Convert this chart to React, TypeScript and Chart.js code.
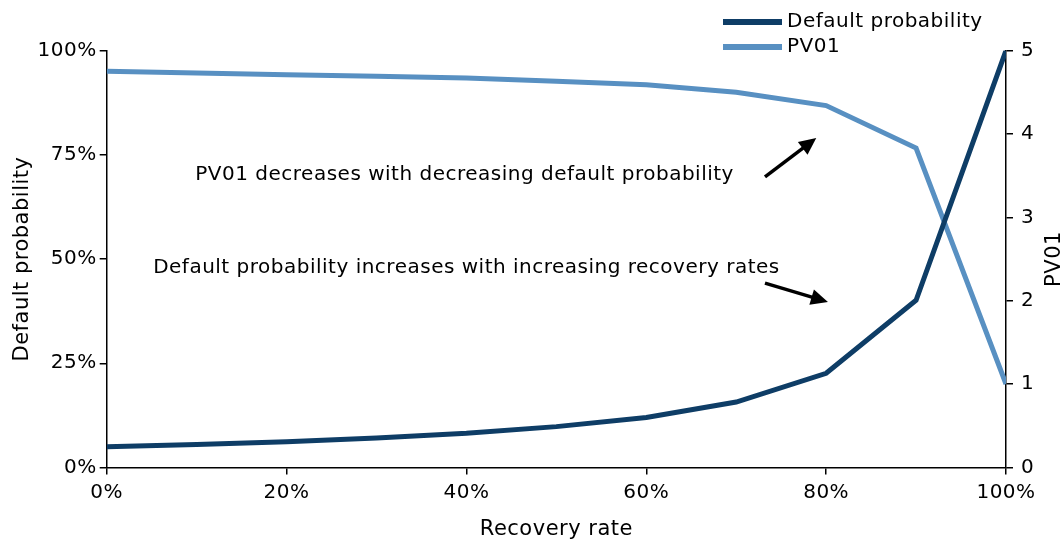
import React, { useEffect, useRef } from "react";
import { Chart, registerables } from "chart.js";

Chart.register(...registerables);

const recoveryRates = [0, 10, 20, 30, 40, 50, 60, 70, 80, 90, 100];
const defaultProbability = [5.0, 5.5, 6.2, 7.1, 8.2, 9.8, 12.0, 15.7, 22.6, 40.1, 100];
const pv01 = [4.75, 4.73, 4.71, 4.69, 4.67, 4.63, 4.59, 4.5, 4.34, 3.83, 1.0];

const seriesLabels = ["Default probability", "PV01"];
const seriesColors = ["#0e3d66", "#5890c2"];

const xTitle = "Recovery rate";
const yLeftTitle = "Default probability";
const yRightTitle = "PV01";

// annotations in data coordinates (x: recovery %, y: left axis %)
const noteTexts = [
  "PV01 decreases with decreasing default probability",
  "Default probability increases with increasing recovery rates",
];
const noteX = [39.8, 40.0];
const noteY = [70.1, 47.8];
const arrowFromX = [73.2, 73.2];
const arrowFromY = [69.7, 44.2];
const arrowToX = [78.9, 80.2];
const arrowToY = [79.0, 39.7];

const FONT = '"DejaVu Sans", sans-serif';
const FSIZE = 20;
const SPACING = "0.5px";

export default function App() {
  const ref = useRef<HTMLCanvasElement | null>(null);

  useEffect(() => {
    if (!ref.current) return;

    const spacing = {
      id: "spacing",
      beforeUpdate(chart: any) {
        chart.ctx.letterSpacing = SPACING;
      },
      beforeLayout(chart: any) {
        chart.ctx.letterSpacing = SPACING;
      },
      beforeDraw(chart: any) {
        chart.ctx.letterSpacing = SPACING;
      },
    };

    const overlay = {
      id: "overlay",
      afterDraw(chart: any) {
        const ctx = chart.ctx;
        const xs = chart.scales.x;
        const yl = chart.scales.yLeft;
        const ca = chart.chartArea;
        ctx.save();
        ctx.letterSpacing = SPACING;
        ctx.font = `${FSIZE}px ${FONT}`;
        ctx.fillStyle = "#000";
        ctx.textAlign = "center";
        ctx.textBaseline = "middle";
        for (let i = 0; i < noteTexts.length; i++) {
          ctx.fillText(noteTexts[i], xs.getPixelForValue(noteX[i]), yl.getPixelForValue(noteY[i]));
        }
        // arrows
        ctx.strokeStyle = "#000";
        ctx.fillStyle = "#000";
        ctx.lineWidth = 3.5;
        for (let i = 0; i < arrowFromX.length; i++) {
          const x1 = xs.getPixelForValue(arrowFromX[i]);
          const y1 = yl.getPixelForValue(arrowFromY[i]);
          const x2 = xs.getPixelForValue(arrowToX[i]);
          const y2 = yl.getPixelForValue(arrowToY[i]);
          const ang = Math.atan2(y2 - y1, x2 - x1);
          const hl = 17, hw = 8;
          const bx = x2 - hl * Math.cos(ang);
          const by = y2 - hl * Math.sin(ang);
          ctx.beginPath();
          ctx.moveTo(x1, y1);
          ctx.lineTo(bx + 2 * Math.cos(ang), by + 2 * Math.sin(ang));
          ctx.stroke();
          ctx.beginPath();
          ctx.moveTo(x2, y2);
          ctx.lineTo(bx + hw * Math.sin(ang), by - hw * Math.cos(ang));
          ctx.lineTo(bx - hw * Math.sin(ang), by + hw * Math.cos(ang));
          ctx.closePath();
          ctx.fill();
        }
        // right axis title (reads bottom to top)
        ctx.save();
        ctx.font = `${FSIZE + 1}px ${FONT}`;
        ctx.translate(1055, (ca.top + ca.bottom) / 2);
        ctx.rotate(-Math.PI / 2);
        ctx.fillText(yRightTitle, 0, 0);
        ctx.restore();
        // legend
        ctx.textAlign = "left";
        const rows = [22, 47];
        for (let i = 0; i < seriesLabels.length; i++) {
          ctx.fillStyle = seriesColors[i];
          ctx.fillRect(723, rows[i] - 3, 59, 6);
          ctx.fillStyle = "#000";
          ctx.fillText(seriesLabels[i], 787, rows[i]);
        }
        ctx.restore();
      },
    };

    const tickFont = { family: FONT, size: FSIZE };
    const titleFont = { family: FONT, size: FSIZE + 1 };
    const chart = new Chart(ref.current, {
      type: "line",
      data: {
        datasets: [
          {
            label: seriesLabels[0],
            data: recoveryRates.map((r, i) => ({ x: r, y: defaultProbability[i] })),
            borderColor: seriesColors[0],
            backgroundColor: seriesColors[0],
            borderWidth: 5,
            pointRadius: 0,
            tension: 0,
            yAxisID: "yLeft",
          },
          {
            label: seriesLabels[1],
            data: recoveryRates.map((r, i) => ({ x: r, y: pv01[i] })),
            borderColor: seriesColors[1],
            backgroundColor: seriesColors[1],
            borderWidth: 5,
            pointRadius: 0,
            tension: 0,
            yAxisID: "yRight",
          },
        ],
      },
      options: {
        animation: false,
        responsive: true,
        maintainAspectRatio: false,
        devicePixelRatio: 1,
        layout: { padding: { top: 50.5, left: 0, right: 0, bottom: 0 } },
        plugins: { legend: { display: false }, tooltip: { enabled: false } },
        scales: {
          x: {
            type: "linear",
            min: 0,
            max: 100,
            afterFit(s: any) {
              s.height = 74.5;
            },
            ticks: {
              stepSize: 20,
              color: "#000",
              font: tickFont,
              padding: 6,
              maxRotation: 0,
              callback: (v: any) => `${v}%`,
            },
            grid: { display: true, drawOnChartArea: false, drawTicks: true, tickLength: 7, color: "#000", lineWidth: 1.5 },
            border: { display: true, color: "#000", width: 1.5 },
            title: { display: true, text: xTitle, color: "#000", font: titleFont, padding: { top: 0, bottom: 0 } },
          },
          yLeft: {
            type: "linear",
            position: "left",
            min: 0,
            max: 100,
            afterFit(s: any) {
              s.width = 106.7;
            },
            ticks: {
              stepSize: 25,
              color: "#000",
              font: tickFont,
              padding: 3,
              callback: (v: any) => `${v}%`,
            },
            grid: { display: true, drawOnChartArea: false, drawTicks: true, tickLength: 7, color: "#000", lineWidth: 1.5 },
            border: { display: true, color: "#000", width: 1.5 },
            title: { display: true, text: yLeftTitle, color: "#000", font: titleFont, padding: { top: 10, bottom: 0 } },
          },
          yRight: {
            type: "linear",
            position: "right",
            min: 0,
            max: 5,
            afterFit(s: any) {
              s.width = 56;
            },
            ticks: { stepSize: 1, color: "#000", font: tickFont, padding: 8 },
            grid: { display: true, drawOnChartArea: false, drawTicks: true, tickLength: 7, color: "#000", lineWidth: 1.5 },
            border: { display: true, color: "#000", width: 1.5 },
          },
        },
      },
      plugins: [spacing, overlay],
    });
    return () => chart.destroy();
  }, []);

  return (
    <div style={{ position: "absolute", left: 0, top: 0, width: 1062, height: 542 }}>
      <canvas ref={ref} />
    </div>
  );
}
